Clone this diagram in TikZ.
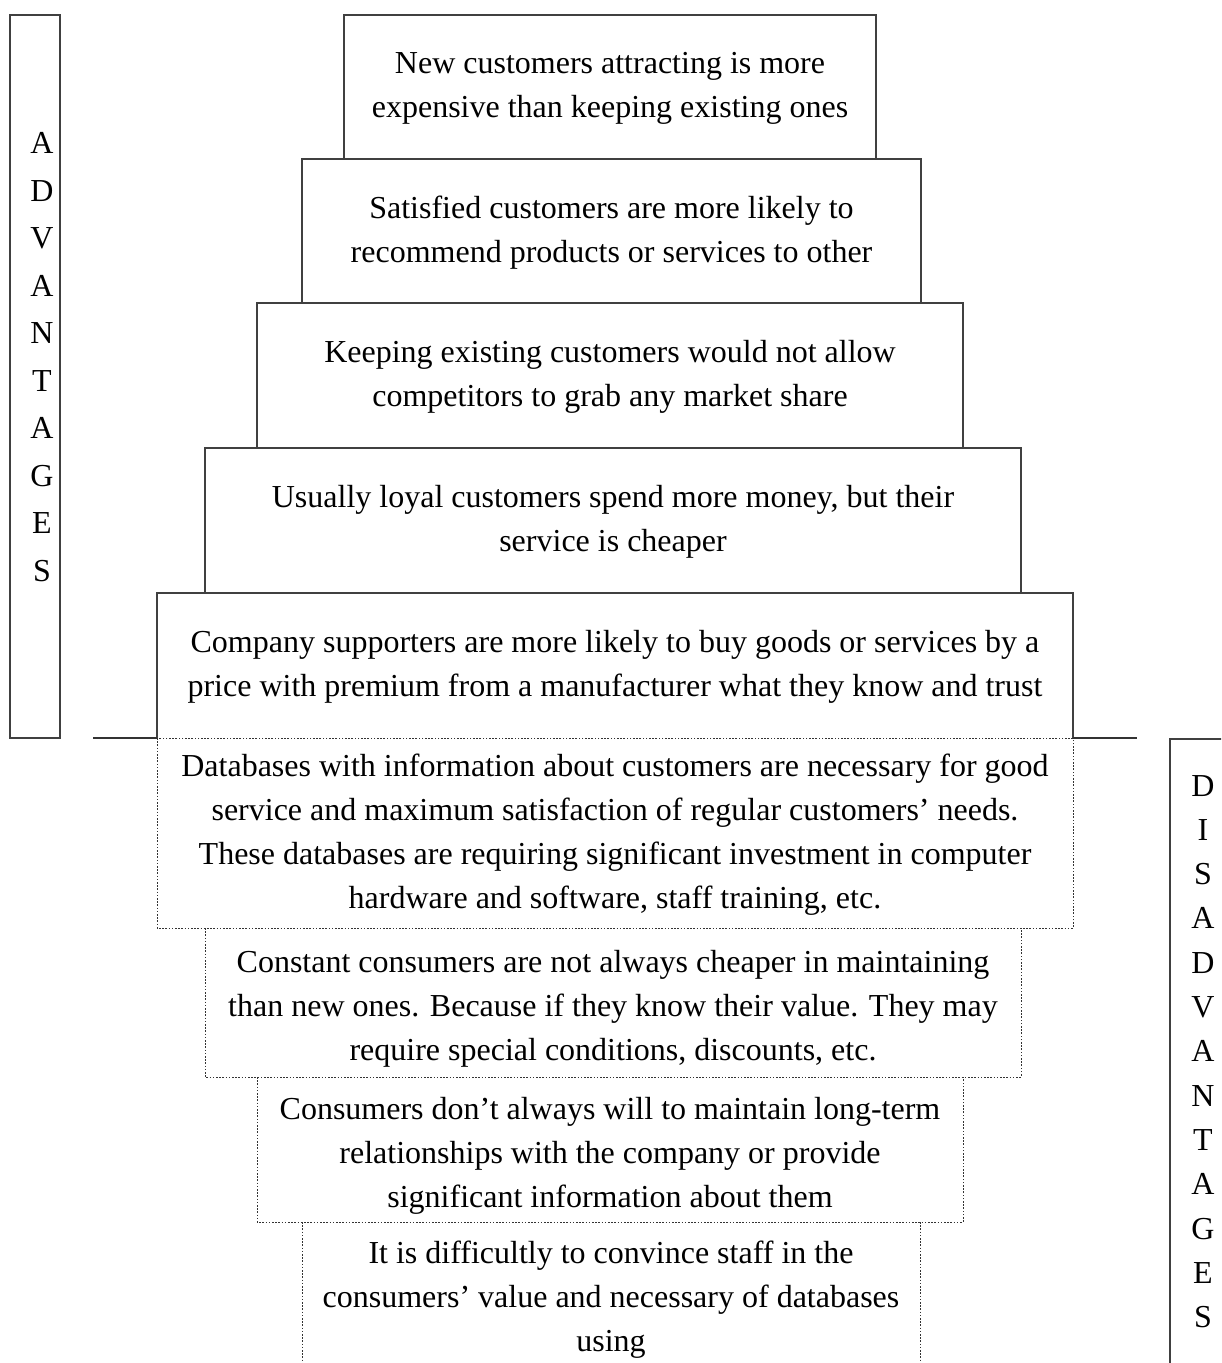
\documentclass[tikz,border=0pt]{standalone}
\usepackage{fontspec}
\setmainfont{Liberation Serif}
\begin{document}
\begin{tikzpicture}[x=0.5pt,y=-0.5pt,
  frame/.style={draw=black!75, line width=0.55pt},
  dotframe/.style={draw=black!80, line width=0.5pt, dash pattern=on 0.8pt off 0.8pt},
  rule/.style={draw=black!80, line width=1pt},
  boxtext/.style={inner sep=0pt, align=center,
    font=\fontsize{16}{22}\selectfont,
    execute at begin node=\strut, execute at end node=\strut},
  lettertext/.style={inner sep=0pt, align=center,
    execute at begin node=\strut, execute at end node=\strut}]
\useasboundingbox (0,0) rectangle (1221,1363);
\clip (0,0) rectangle (1221,1363);

% side label frames
\draw[frame] (10,15) rectangle (60,738);
\draw[frame] (1170,1380) -- (1170,739) -- (1240,739);

% advantages: stacked boxes, each drawn with its top and sides
\draw[frame] (344,159) -- (344,15) -- (876,15) -- (876,159);
\draw[frame] (302,303) -- (302,159) -- (921,159) -- (921,303);
\draw[frame] (257,448) -- (257,303) -- (963,303) -- (963,448);
\draw[frame] (205,593) -- (205,448) -- (1021,448) -- (1021,593);
\draw[frame] (157,738) -- (157,593) -- (1073,593) -- (1073,738);

% dividing rule
\draw[rule] (93,738) -- (157,738);
\draw[rule] (1073,738) -- (1137,738);

% disadvantages: dotted boxes
\draw[dotframe] (157,738) rectangle (1073,928);
\draw[dotframe] (205,928) -- (205,1077) -- (1021,1077) -- (1021,928);
\draw[dotframe] (257,1077) -- (257,1222) -- (963,1222) -- (963,1077);
\draw[dotframe] (302,1222) -- (302,1380);
\draw[dotframe] (920,1222) -- (920,1380);

% vertical labels
\node[lettertext, font=\fontsize{16}{23.75}\selectfont] (adv) at (42,364)
  {A\\D\\V\\A\\N\\T\\A\\G\\E\\S};
\node[lettertext, font=\fontsize{16}{22.15}\selectfont] (dis) at (1203,1058)
  {D\\I\\S\\A\\D\\V\\A\\N\\T\\A\\G\\E\\S};

% advantage texts
\node[boxtext] (t1) at (610,92)
  {New customers attracting is more\\expensive than keeping existing ones};
\node[boxtext] (t2) at (611.5,236)
  {Satisfied customers are more likely to\\recommend products or services to other};
\node[boxtext] (t3) at (610,380)
  {Keeping existing customers would not allow\\competitors to grab any market share};
\node[boxtext] (t4) at (613,525)
  {Usually loyal customers spend more money, but their\\service is cheaper};
\node[boxtext] (t5) at (615,670)
  {Company supporters are more likely to buy goods or services by a\\price with premium from a manufacturer what they know and trust};

% disadvantage texts
\node[boxtext] (t6) at (615,838)
  {Databases with information about customers are necessary for good\\service and maximum satisfaction of regular customers’ needs.\\These databases are requiring significant investment in computer\\hardware and software, staff training, etc.};
\node[boxtext] (t7) at (613,1012)
  {Constant consumers are not always cheaper in maintaining\\than new ones. Because if they know their value. They may\\require special conditions, discounts, etc.};
\node[boxtext] (t8) at (610,1159)
  {Consumers don’t always will to maintain long-term\\relationships with the company or provide\\significant information about them};
\node[boxtext] (t9) at (611,1303)
  {It is difficultly to convince staff in the\\consumers’ value and necessary of databases\\using};
\end{tikzpicture}
\end{document}
